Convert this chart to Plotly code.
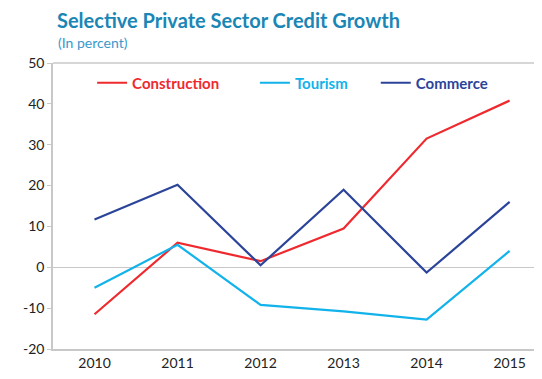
import plotly.graph_objects as go

years = ["2010", "2011", "2012", "2013", "2014", "2015"]
construction = [-11.5, 6.0, 1.5, 9.5, 31.5, 40.8]
tourism = [-5.0, 5.5, -9.2, -10.8, -12.8, 4.0]
commerce = [11.7, 20.2, 0.5, 19.0, -1.3, 16.0]
y_ticks = [-20, -10, 0, 10, 20, 30, 40, 50]
y_tick_labels = ["-20", "-10", "0", "10", "20", "30", "40", "50"]

series = [
    ("Construction", construction, "#EE2A2F", 8),
    ("Tourism", tourism, "#12B2EA", 6),
    ("Commerce", commerce, "#2B449A", 0),
]

FONT = "Lato, 'Open Sans', sans-serif"
W, H = 534, 371  # page body adds an 8px margin

fig = go.Figure()
for name, vals, col, pad in series:
    fig.add_trace(go.Scatter(
        x=years, y=vals, mode="lines", line=dict(color=col, width=2.2),
        name=f"<b><span style='color:{col}'>{name}</span></b>" + "&nbsp;" * pad,
    ))

fig.update_layout(
    width=W, height=H,
    margin=dict(l=45, r=0, t=55, b=30),
    paper_bgcolor="white", plot_bgcolor="white",
    font=dict(family=FONT, size=13, color="#333333"),
    annotations=[
        dict(text="<b>Selective Private Sector Credit Growth</b>", xref="paper", yref="paper",
             x=2/489, xanchor="left", y=(341-12)/286, yanchor="middle",
             showarrow=False, font=dict(size=20, color="#1A86B5")),
        dict(text="(In percent)", xref="paper", yref="paper",
             x=3/489, xanchor="left", y=(341-35)/286, yanchor="middle",
             showarrow=False, font=dict(size=14, color="#3A98CC")),
    ],
    legend=dict(orientation="h", x=0.08, y=0.93, xanchor="left", yanchor="middle",
                bgcolor="rgba(0,0,0,0)", font=dict(size=15),
                itemwidth=30),
    xaxis=dict(type="category", range=[-0.5, 5.39], showgrid=False,
               showline=True, linecolor="#C8C8C8", linewidth=1.5,
               ticks="", tickfont=dict(size=14, color="#222222"), automargin=False),
    yaxis=dict(range=[-20, 50], tickvals=y_ticks, ticktext=y_tick_labels,
               showgrid=False, automargin=False,
               showline=True, linecolor="#C8C8C8", linewidth=1.5,
               mirror=False, ticks="outside", ticklen=4, tickcolor="#C8C8C8",
               zeroline=True, zerolinecolor="#C8C8C8", zerolinewidth=1,
               tickfont=dict(size=14, color="#222222")),
    shapes=[dict(type="line", xref="paper", yref="paper", x0=0, x1=1, y0=1, y1=1,
                 line=dict(color="#C8C8C8", width=1.5))],
)

fig.write_html("out.html")
